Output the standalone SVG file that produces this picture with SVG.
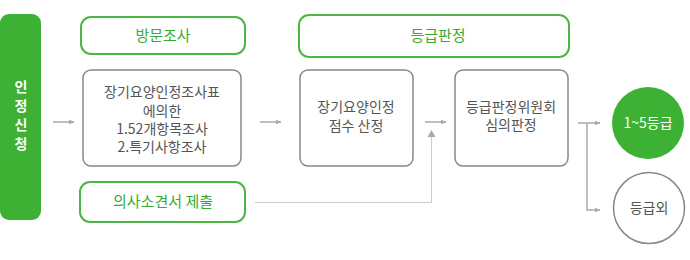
<svg xmlns="http://www.w3.org/2000/svg" width="690" height="260" viewBox="0 0 690 260">
<defs>
<marker id="ah" viewBox="0 0 10 10" refX="9" refY="5" markerWidth="6" markerHeight="6" markerUnits="userSpaceOnUse" orient="auto">
<path d="M0,1 L10,5 L0,9 Z" fill="#aaaaaa"/>
</marker>
<style>
.t{font-family:"Noto Sans CJK KR","Noto Sans",sans-serif;text-anchor:middle}
.g{fill:#3aaa35;font-size:15px}
.d{fill:#555555;font-size:14px}
.gb{fill:#ffffff;stroke:#4cb543;stroke-width:2}
.bx{fill:#ffffff;stroke:#888888;stroke-width:1.5}
.ln{fill:none;stroke:#aaaaaa;stroke-width:1.5}
.lt{fill:none;stroke:#cccccc;stroke-width:1}
</style>
</defs>
<rect width="690" height="260" fill="#ffffff"/>
<g id="apply">
<rect x="0" y="14" width="41" height="206" rx="9" fill="#3db134"/>
<text class="t" x="21" y="92" fill="#ffffff" font-size="14" font-weight="bold">인</text>
<text class="t" x="21" y="111" fill="#ffffff" font-size="14" font-weight="bold">정</text>
<text class="t" x="21" y="130" fill="#ffffff" font-size="14" font-weight="bold">신</text>
<text class="t" x="21" y="149" fill="#ffffff" font-size="14" font-weight="bold">청</text>
</g>
<g id="visit">
<rect class="gb" x="81" y="17" width="164" height="37" rx="10"/>
<text class="t g" x="163" y="41">방문조사</text>
</g>
<g id="survey">
<rect class="bx" x="83" y="70" width="158" height="96" rx="8"/>
<text class="t d" x="162" y="97">장기요양인정조사표</text>
<text class="t d" x="162" y="116">에의한</text>
<text class="t d" x="162" y="134">1.52개항목조사</text>
<text class="t d" x="162" y="152">2.특기사항조사</text>
</g>
<g id="doctor">
<rect class="gb" x="80" y="182" width="165" height="40" rx="10"/>
<text class="t g" x="163" y="207">의사소견서 제출</text>
</g>
<g id="grading">
<rect class="gb" x="299" y="15" width="270" height="42" rx="10"/>
<text class="t g" x="438" y="41">등급판정</text>
</g>
<g id="score">
<rect class="bx" x="300" y="70" width="113" height="96" rx="8"/>
<text class="t d" x="356" y="112">장기요양인정</text>
<text class="t d" x="356" y="131">점수 산정</text>
</g>
<g id="committee">
<rect class="bx" x="455" y="70" width="113" height="96" rx="8"/>
<text class="t d" x="511" y="112">등급판정위원회</text>
<text class="t d" x="511" y="130">심의판정</text>
</g>
<g id="grade15">
<circle cx="648" cy="123" r="36" fill="#3db134"/>
<text class="t" x="648" y="128" fill="#ffffff" font-size="14">1~5등급</text>
</g>
<g id="gradeout">
<circle cx="649" cy="208" r="35.5" fill="#ffffff" stroke="#888888" stroke-width="1.5"/>
<text class="t" x="649" y="213" fill="#555555" font-size="14">등급외</text>
</g>
<g id="connectors">
<line class="ln" x1="53" y1="122" x2="74" y2="122" marker-end="url(#ah)"/>
<line class="ln" x1="260" y1="122" x2="281" y2="122" marker-end="url(#ah)"/>
<line class="ln" x1="425" y1="122" x2="446" y2="122" marker-end="url(#ah)"/>
<path class="lt" d="M255,202.5 H431.5 V137"/>
<path d="M431.5,130 L435.5,137 L427.5,137 Z" fill="#aaaaaa"/>
<line class="ln" x1="578" y1="123" x2="600" y2="123" marker-end="url(#ah)"/>
<path class="ln" d="M587,123 V210 H600" marker-end="url(#ah)"/>
</g>
</svg>
